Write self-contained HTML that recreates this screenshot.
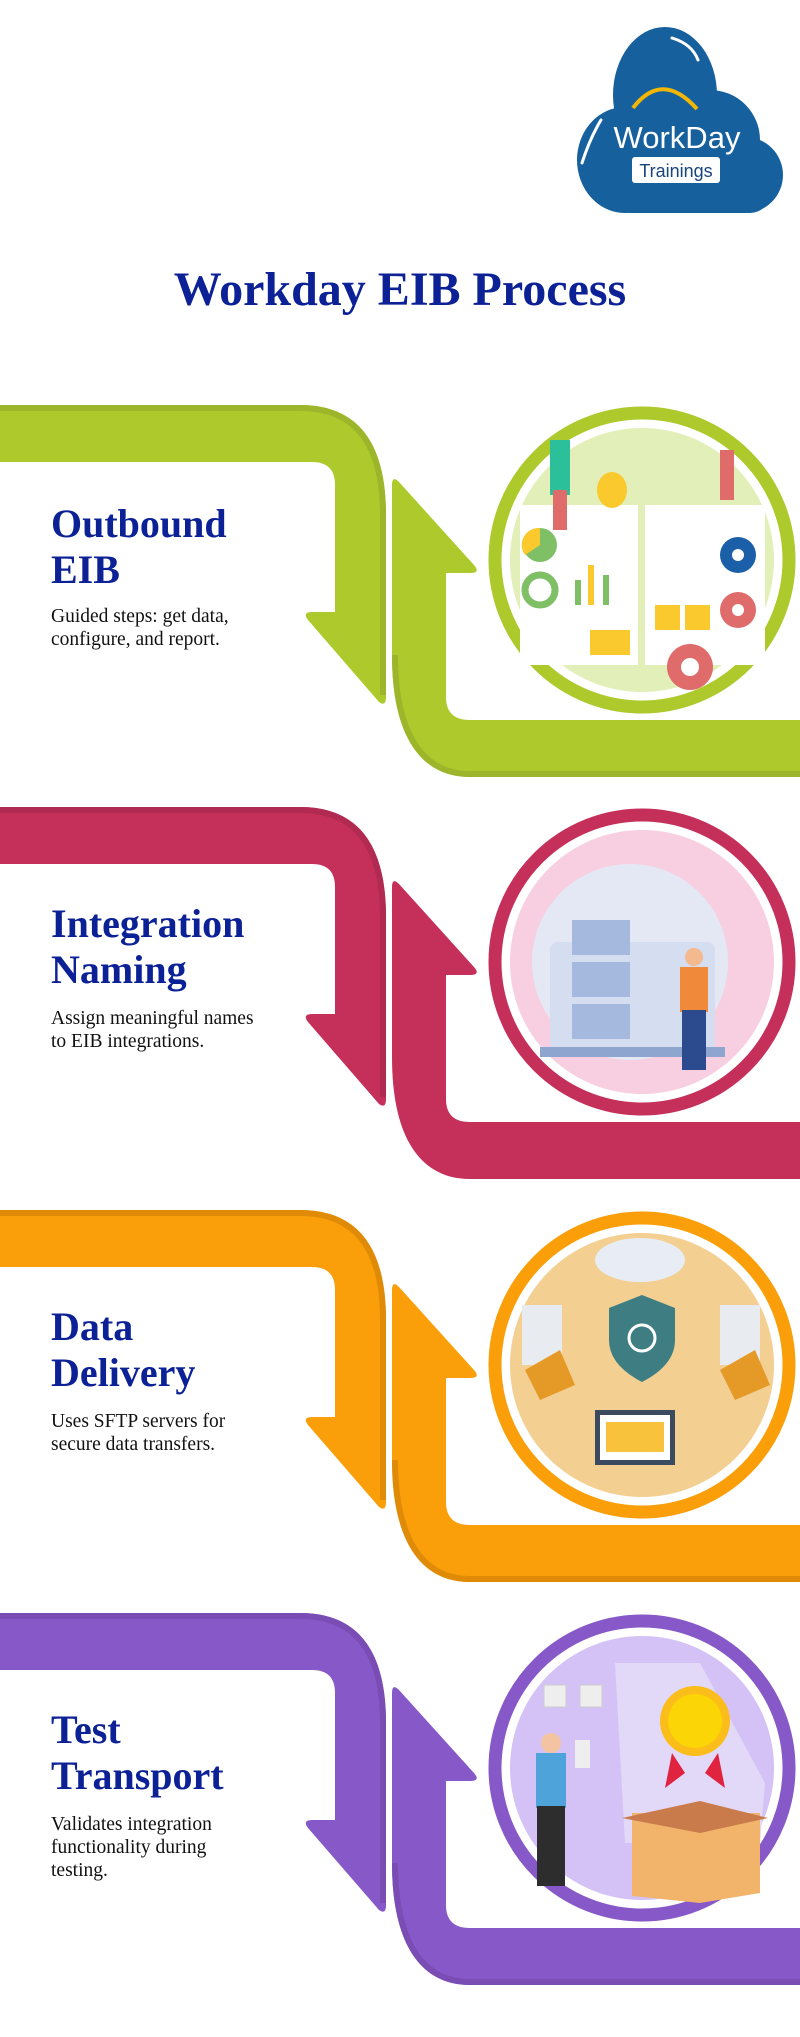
<!DOCTYPE html>
<html><head><meta charset="utf-8"><style>
html,body{margin:0;padding:0;background:#fff;}
body{width:800px;height:2037px;overflow:hidden;}
svg{display:block;}
.h{font-family:"Liberation Serif",serif;font-weight:bold;font-size:40px;fill:#0c2196;}
.b{font-family:"Liberation Serif",serif;font-size:19.5px;fill:#111;}
</style></head><body>
<svg width="800" height="2037" viewBox="0 0 800 2037" xmlns="http://www.w3.org/2000/svg">
<defs>
<g id="arrows">
  <path d="M0,0 H300 C360,0 386,40 386,110 V292 Q386,302 379,297 L308,215 Q302,207 312,207 H335 V80 Q335,57 312,57 H0 Z"/>
  <path d="M392,80 Q392,70 399,77 L474,160 Q481,168 470,168 H446 V292 Q446,315 470,315 H800 V372 H470 C420,372 392,330 392,250 Z"/>
</g>
</defs>
<!-- Logo -->
<g fill="#17609e">
  <ellipse cx="665" cy="95" rx="52" ry="68"/>
  <ellipse cx="625" cy="160" rx="48" ry="53"/>
  <ellipse cx="745" cy="175" rx="38" ry="38"/>
  <ellipse cx="710" cy="140" rx="50" ry="50"/>
  <rect x="610" y="160" width="160" height="53" rx="20"/>
</g>
<path d="M672,38 Q692,44 698,60" stroke="#fff" stroke-width="3" fill="none" stroke-linecap="round"/>
<path d="M601,120 Q590,138 582,163" stroke="#fff" stroke-width="3" fill="none" stroke-linecap="round"/>
<path d="M633,108 Q662,70 697,109" stroke="#f2b705" stroke-width="4" fill="none"/>
<text x="677" y="148" text-anchor="middle" font-family="Liberation Sans,sans-serif" font-size="31" fill="#fff">WorkDay</text>
<rect x="632" y="157" width="88" height="26" rx="3" fill="#fff"/>
<text x="676" y="177" text-anchor="middle" font-family="Liberation Sans,sans-serif" font-size="18" fill="#17457a">Trainings</text>
<text x="400" y="305" text-anchor="middle" font-family="Liberation Serif,serif" font-weight="bold" font-size="48" fill="#0c2196">Workday EIB Process</text>

<!-- Section 1 -->
<g transform="translate(0,405)">
  <use href="#arrows" fill="#adc92b"/>
  <path d="M0,3 H300 C358,3 383,42 383,110 V290" stroke="#9cb52a" stroke-width="6" fill="none"/>
  <path d="M395,250 C395,328 422,369 470,369 H800" stroke="#9cb52a" stroke-width="6" fill="none"/>
  <circle cx="642" cy="155" r="147" fill="none" stroke="#adc92b" stroke-width="13"/>
  <circle cx="642" cy="155" r="132" fill="#e3efb8"/>
  <rect x="520" y="100" width="118" height="160" fill="#fff"/>
  <rect x="645" y="100" width="120" height="160" fill="#fff"/>
  <circle cx="540" cy="140" r="17" fill="#7fbf65"/><path d="M540,140 L540,123 A17,17 0 0 0 525,150 Z" fill="#f9c92e"/>
  <circle cx="540" cy="185" r="15" fill="none" stroke="#7fbf65" stroke-width="7"/>
  <rect x="575" y="175" width="6" height="25" fill="#7fbf65"/><rect x="588" y="160" width="6" height="40" fill="#f9c92e"/><rect x="603" y="170" width="6" height="30" fill="#7fbf65"/>
  <circle cx="738" cy="150" r="18" fill="#1a5fa8"/><circle cx="738" cy="150" r="6" fill="#fff"/>
  <circle cx="738" cy="205" r="18" fill="#e06b6b"/><circle cx="738" cy="205" r="6" fill="#fff"/>
  <rect x="655" y="200" width="25" height="25" fill="#f9c92e"/><rect x="685" y="200" width="25" height="25" fill="#f9c92e"/>
  <circle cx="690" cy="262" r="23" fill="#e06b6b"/><circle cx="690" cy="262" r="9" fill="#fff"/>
  <rect x="590" y="225" width="40" height="25" fill="#f9c92e"/>
  <rect x="550" y="35" width="20" height="55" fill="#2bbf9a"/><rect x="553" y="85" width="14" height="40" fill="#e06b6b"/>
  <ellipse cx="612" cy="85" rx="15" ry="18" fill="#f9c92e"/><rect x="720" y="45" width="14" height="50" fill="#e06b6b"/>
</g>

<!-- Section 2 -->
<g transform="translate(0,807)">
  <use href="#arrows" fill="#c5305b"/>
  <path d="M0,3 H300 C358,3 383,42 383,110 V290" stroke="#b02a51" stroke-width="6" fill="none"/>
  <circle cx="642" cy="155" r="147" fill="none" stroke="#c5305b" stroke-width="13"/>
  <circle cx="642" cy="155" r="132" fill="#f7cfe0"/>
  <circle cx="630" cy="155" r="98" fill="#e4e8f4"/>
  <rect x="550" y="135" width="165" height="110" rx="8" fill="#d5ddf0"/>
  <rect x="572" y="113" width="58" height="35" fill="#a5b8dd"/>
  <rect x="572" y="155" width="58" height="35" fill="#a5b8dd"/>
  <rect x="572" y="197" width="58" height="35" fill="#a5b8dd"/>
  <rect x="540" y="240" width="185" height="10" fill="#8ea6cf"/>
  <rect x="680" y="160" width="28" height="45" fill="#f08a3a"/>
  <rect x="682" y="203" width="24" height="60" fill="#2c4a8e"/>
  <circle cx="694" cy="150" r="9" fill="#f4b98e"/>
</g>

<!-- Section 3 -->
<g transform="translate(0,1210)">
  <use href="#arrows" fill="#fa9f0a"/>
  <path d="M0,3 H300 C358,3 383,42 383,110 V290" stroke="#df8b08" stroke-width="6" fill="none"/>
  <path d="M395,250 C395,328 422,369 470,369 H800" stroke="#df8b08" stroke-width="6" fill="none"/>
  <circle cx="642" cy="155" r="147" fill="none" stroke="#fa9f0a" stroke-width="13"/>
  <circle cx="642" cy="155" r="132" fill="#f3cf92"/>
  <ellipse cx="640" cy="50" rx="45" ry="22" fill="#e8edf5"/>
  <path d="M642,85 L675,98 V130 Q675,155 642,172 Q609,155 609,130 V98 Z" fill="#3e7e82"/>
  <circle cx="642" cy="128" r="13" fill="none" stroke="#fff" stroke-width="3"/>
  <rect x="522" y="95" width="40" height="60" fill="#e8ebf0"/><rect x="720" y="95" width="40" height="60" fill="#e8ebf0"/>
  <path d="M525,160 L560,140 L575,175 L540,190 Z" fill="#e59a28"/>
  <path d="M720,160 L755,140 L770,175 L735,190 Z" fill="#e59a28"/>
  <rect x="595" y="200" width="80" height="55" fill="#3b4a5e"/><rect x="600" y="205" width="70" height="45" fill="#fff"/>
  <rect x="606" y="212" width="58" height="30" fill="#f9c23c"/>
</g>

<!-- Section 4 -->
<g transform="translate(0,1613)">
  <use href="#arrows" fill="#8758c8"/>
  <path d="M0,3 H300 C358,3 383,42 383,110 V290" stroke="#7a4db5" stroke-width="6" fill="none"/>
  <path d="M395,250 C395,328 422,369 470,369 H800" stroke="#7a4db5" stroke-width="6" fill="none"/>
  <circle cx="642" cy="155" r="147" fill="none" stroke="#8758c8" stroke-width="13"/>
  <circle cx="642" cy="155" r="132" fill="#d4c2f6"/>
  <path d="M615,50 H700 L765,170 L760,230 H625 Z" fill="#e2d8f8"/>
  <rect x="544" y="72" width="22" height="22" fill="#eee" stroke="#ccc"/><rect x="580" y="72" width="22" height="22" fill="#eee" stroke="#ccc"/>
  <circle cx="695" cy="108" r="35" fill="#fbbd1a"/><circle cx="695" cy="108" r="27" fill="#fbd506"/>
  <path d="M672,140 L665,175 L685,160 Z M718,140 L725,175 L705,160 Z" fill="#e0233f"/>
  <path d="M632,200 H760 V280 L700,290 L632,283 Z" fill="#f2b46b"/>
  <path d="M622,205 L700,188 L768,205 L700,220 Z" fill="#c97b4c"/>
  <rect x="536" y="140" width="30" height="55" fill="#4ea3db"/>
  <rect x="537" y="193" width="28" height="80" fill="#2d2d2d"/>
  <circle cx="551" cy="130" r="10" fill="#f4c3a1"/>
  <rect x="575" y="127" width="15" height="28" fill="#eee"/>
</g>

<!-- Text -->
<text class="h"><tspan x="51" y="537">Outbound</tspan><tspan x="51" y="583">EIB</tspan></text>
<text class="b"><tspan x="51" y="622">Guided steps: get data,</tspan><tspan x="51" y="645">configure, and report.</tspan></text>

<text class="h"><tspan x="51" y="937">Integration</tspan><tspan x="51" y="983">Naming</tspan></text>
<text class="b"><tspan x="51" y="1024">Assign meaningful names</tspan><tspan x="51" y="1047">to EIB integrations.</tspan></text>

<text class="h"><tspan x="51" y="1340">Data</tspan><tspan x="51" y="1386">Delivery</tspan></text>
<text class="b"><tspan x="51" y="1427">Uses SFTP servers for</tspan><tspan x="51" y="1450">secure data transfers.</tspan></text>

<text class="h"><tspan x="51" y="1743">Test</tspan><tspan x="51" y="1789">Transport</tspan></text>
<text class="b"><tspan x="51" y="1830">Validates integration</tspan><tspan x="51" y="1853">functionality during</tspan><tspan x="51" y="1876">testing.</tspan></text>
</svg>
</body></html>
